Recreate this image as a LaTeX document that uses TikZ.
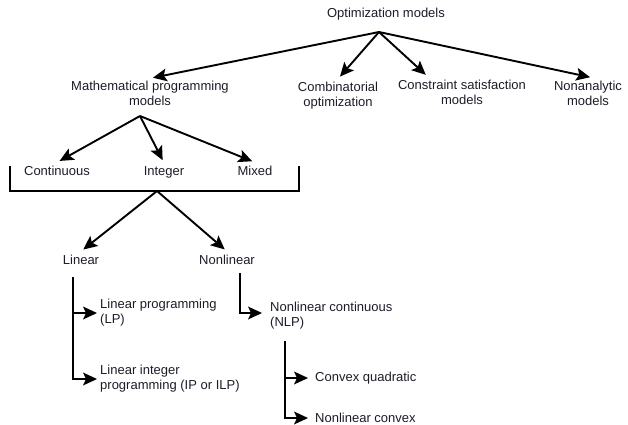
\documentclass[tikz,border=0pt]{standalone}
\usepackage{fontspec}
\setmainfont{Liberation Sans}
\usetikzlibrary{arrows.meta}
\definecolor{ink}{RGB}{28,28,40}
\tikzset{
  lbl/.style={font=\fontsize{13}{15}\selectfont,text=ink,inner sep=3pt},
  leaf/.style={lbl,align=left,anchor=west},
  tipsty/.tip={Stealth[length=14pt,width=13pt,inset=3pt,line width=0pt]},
  branch/.style={-tipsty,line width=1.9pt,shorten >=3pt},
  hook/.style={-tipsty,line width=1.9pt}
}

\begin{document}
\begin{tikzpicture}[x=1pt,y=-1pt]
\useasboundingbox (0,0) rectangle (628,424);
% first level
\node[lbl,anchor=base] (opt) at (386,17) {Optimization models};
\node[lbl,align=center] (math) at (150,93.8) {Mathematical programming\\models};
\node[lbl,align=center] (comb) at (338,95.6) {Combinatorial\\optimization};
\node[lbl,align=center] (cons) at (462,92.3) {Constraint satisfaction\\models};
\node[lbl,align=center] (nonan) at (588,93.3) {Nonanalytic\\models};
\coordinate (top) at (379,32);
\draw[branch] (top) -- (math.north);
\draw[branch] (top) -- (comb.north);
\draw[branch] (top) -- ([xshift=-34pt]cons.north);
\draw[branch] (top) -- ([xshift=5pt]nonan.north);
% second level
\node[lbl,anchor=base] (cont) at (57,175) {Continuous};
\node[lbl,anchor=base] (int) at (164,175) {Integer};
\node[lbl,anchor=base] (mix) at (255,175) {Mixed};
\coordinate (mtop) at (140,116);
\draw[branch] (mtop) -- (cont.north);
\draw[branch] (mtop) -- (int.north);
\draw[branch] (mtop) -- (mix.north);
\draw[line width=1.9pt] (10,166) |- (299,191) -- (299,166);
% linear / nonlinear
\coordinate (brk) at (157,191);
\node[lbl,anchor=base] (lin) at (81,264) {Linear};
\node[lbl,anchor=base] (nonlin) at (227,264) {Nonlinear};
\draw[branch] (brk) -- (lin.north);
\draw[branch] (brk) -- (nonlin.north);
% leaves
\node[leaf] (lp) at (97,313) {Linear programming\\(LP)};
\node[leaf] (ilp) at (97,379) {Linear integer\\programming (IP or ILP)};
\draw[hook] ([xshift=-8pt,yshift=-10pt]lin.south) |- (lp.west);
\draw[hook] ([xshift=-8pt,yshift=-10pt]lin.south) |- (ilp.west);
\node[leaf] (nlp) at (267,316) {Nonlinear continuous\\(NLP)};
\draw[hook,shorten >=5pt] ([xshift=13pt,yshift=-6pt]nonlin.south) |- ([yshift=3pt]nlp.west);
\node[leaf] (cq) at (312,378) {Convex quadratic};
\node[leaf] (nc) at (312,418) {Nonlinear convex};
\draw[hook,shorten >=4pt] ([xshift=18pt,yshift=-8.5pt]nlp.south west) |- (cq.west);
\draw[hook,shorten >=4pt] ([xshift=18pt,yshift=-8.5pt]nlp.south west) |- (nc.west);
\end{tikzpicture}
\end{document}
